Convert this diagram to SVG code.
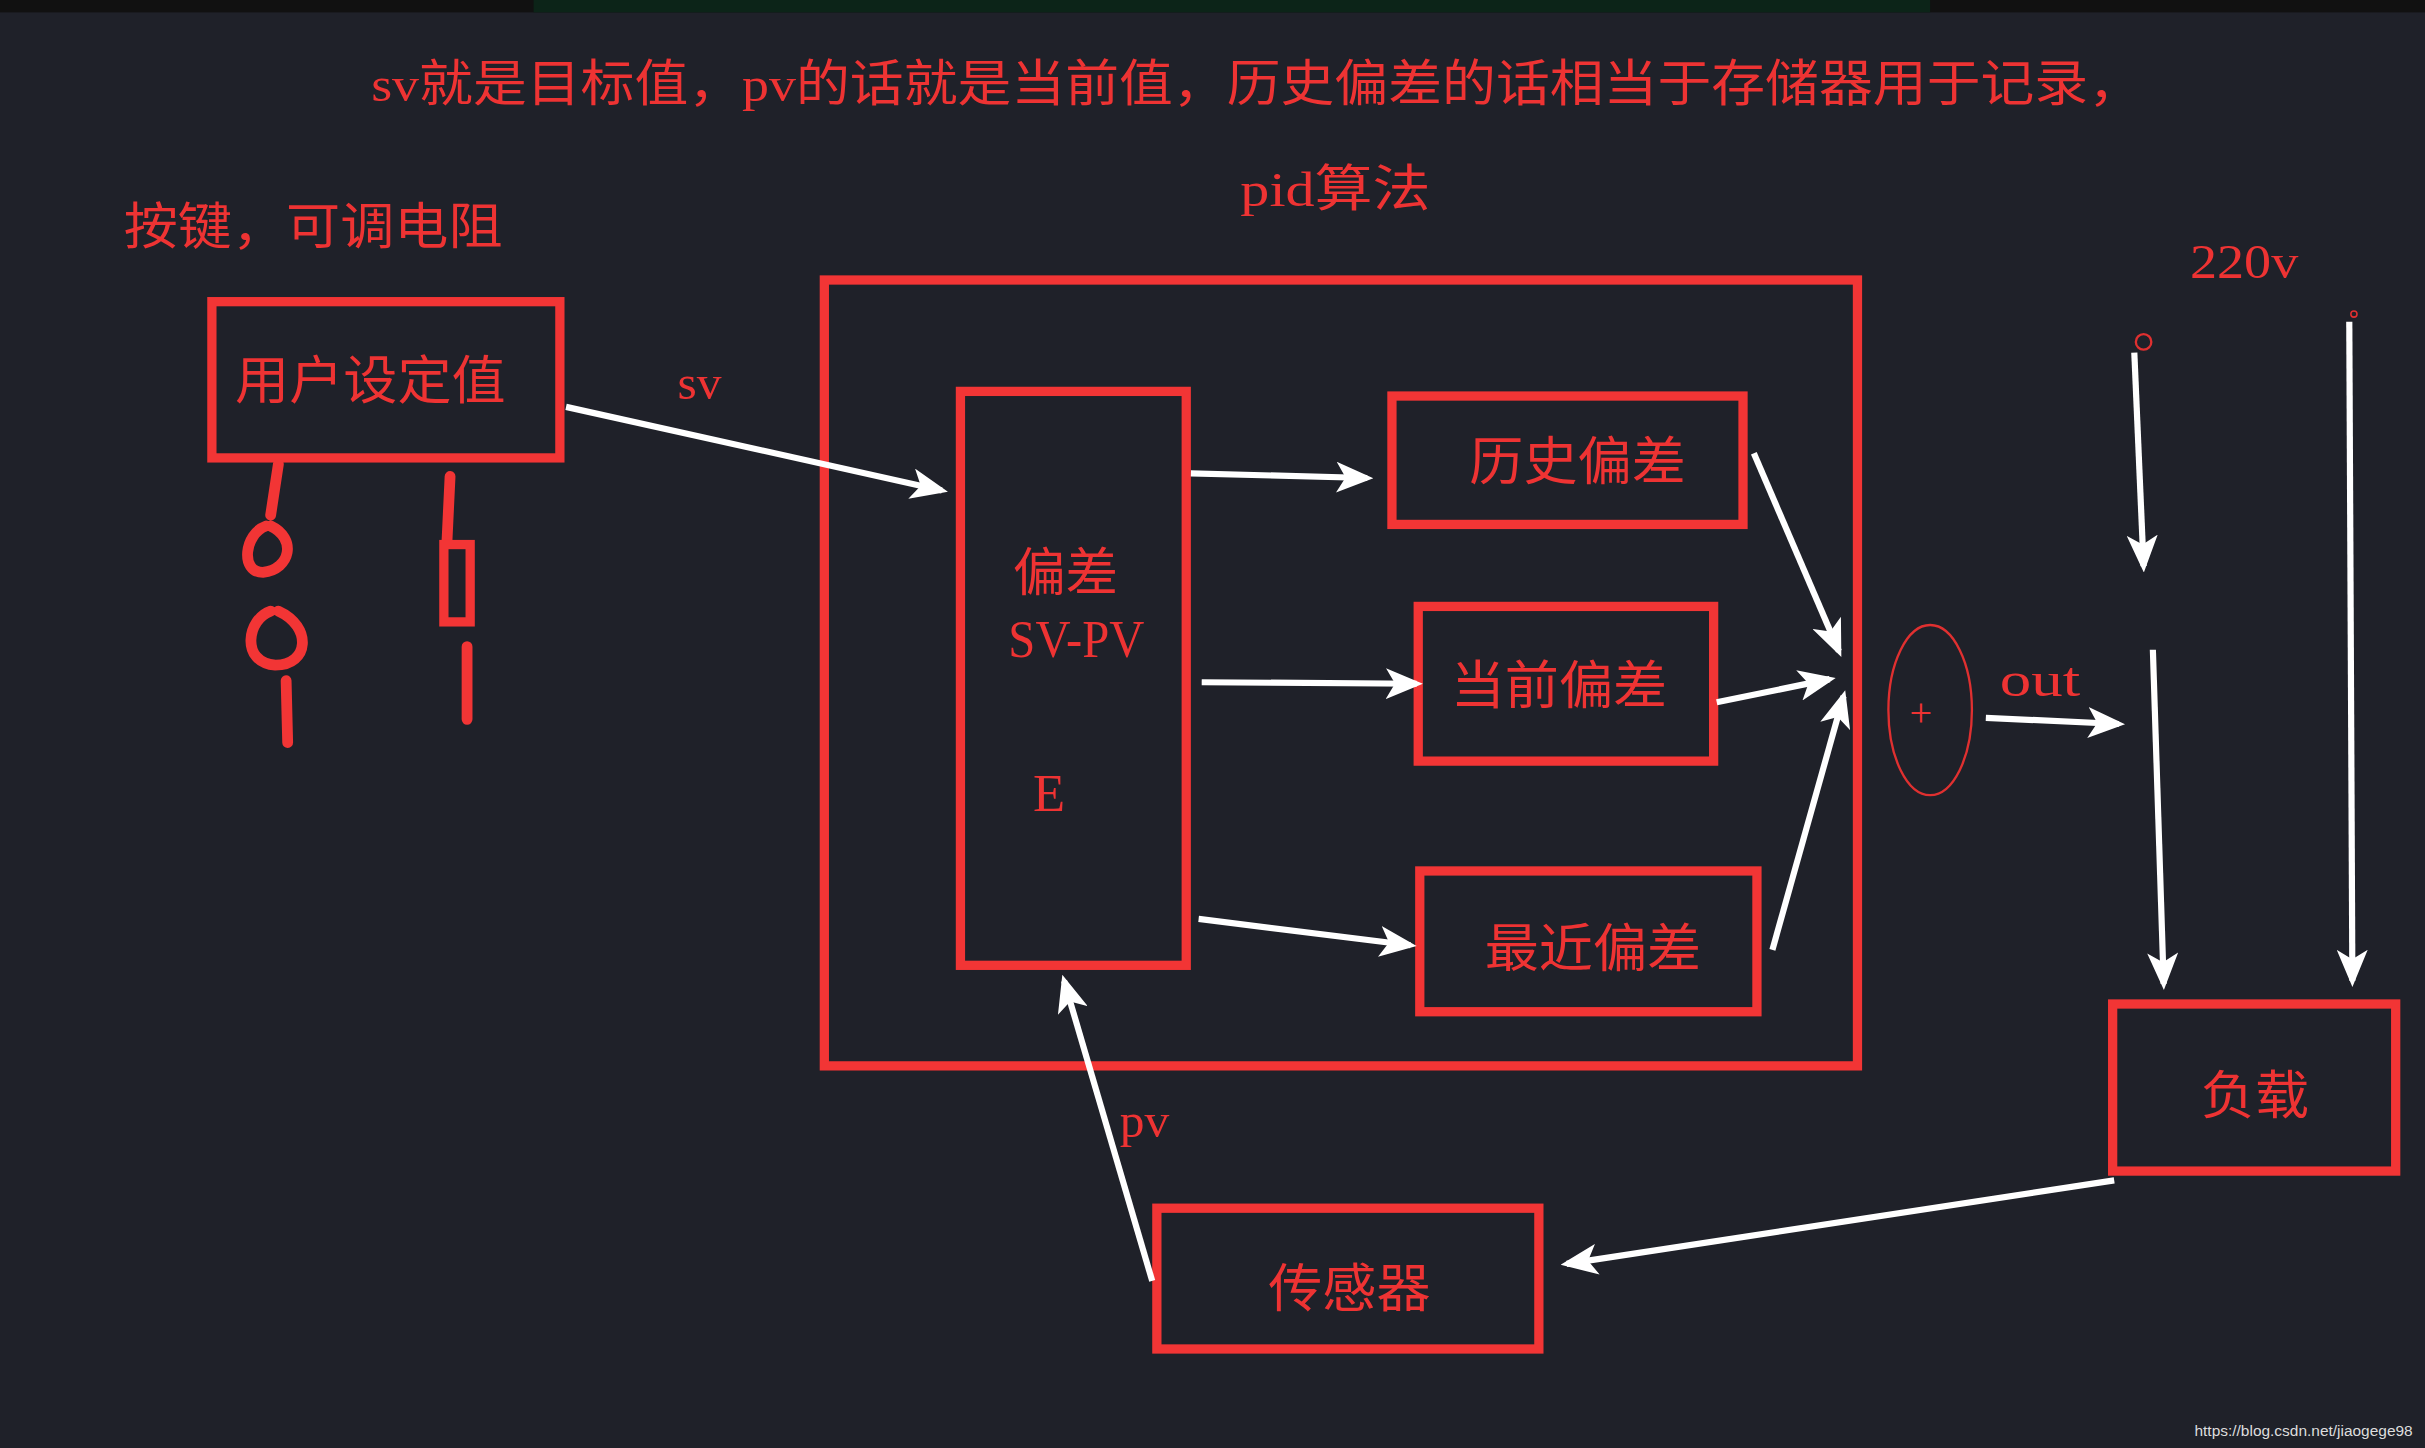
<svg xmlns="http://www.w3.org/2000/svg" width="2425" height="1448" viewBox="0 0 2425 1448">
<style>
.t{font-family:"Liberation Serif","Noto Sans CJK SC",serif;fill:#ee3333}
.b{fill:none;stroke:#f23535;stroke-width:6}
.a{stroke:#ffffff;stroke-width:4;fill:none;marker-end:url(#ah)}
.h{fill:none;stroke:#f23535;stroke-width:7;stroke-linecap:round}
</style>
<defs><marker id="ah" markerWidth="6" markerHeight="5" refX="5" refY="2.5" orient="auto" markerUnits="strokeWidth"><path d="M0,0 L6,2.5 L0,5 L1.5,2.5 Z" fill="#fff"/></marker></defs>
<rect width="2425" height="1448" fill="#1f2129"/>
<g transform="scale(1.5466,1.547)">
<rect x="0" y="0" width="1568" height="8" fill="#111"/>
<rect x="345" y="0" width="903" height="8" fill="#0c2418"/>
<text class="t" x="240" y="65" font-size="32" textLength="1145" lengthAdjust="spacingAndGlyphs">sv就是目标值，pv的话就是当前值，历史偏差的话相当于存储器用于记录，</text>
<text class="t" x="802" y="133" font-size="32" textLength="123" lengthAdjust="spacingAndGlyphs">pid算法</text>
<text class="t" x="80" y="158" font-size="32" textLength="245" lengthAdjust="spacingAndGlyphs">按键，可调电阻</text>
<text class="t" x="1416" y="180" font-size="32" textLength="70" lengthAdjust="spacingAndGlyphs">220v</text>
<text class="t" x="438" y="258" font-size="32">sv</text>
<text class="t" x="724" y="735" font-size="32">pv</text>
<text class="t" x="1293" y="450" font-size="32" textLength="52" lengthAdjust="spacingAndGlyphs">out</text>
<g id="user"><rect class="b" x="137" y="195" width="225" height="101"/><text class="t" x="152" y="258" font-size="34" textLength="175" lengthAdjust="spacingAndGlyphs">用户设定值</text></g>
<g id="pid"><rect class="b" x="533" y="181" width="668" height="508"/></g>
<g id="err"><rect class="b" x="621" y="253" width="146" height="371"/><text class="t" x="655" y="382" font-size="34">偏差</text><text class="t" x="652" y="425" font-size="34" textLength="88" lengthAdjust="spacingAndGlyphs">SV-PV</text><text class="t" x="668" y="524" font-size="34">E</text></g>
<g id="hist"><rect class="b" x="900" y="256" width="227" height="83"/><text class="t" x="950" y="310" font-size="34" textLength="140" lengthAdjust="spacingAndGlyphs">历史偏差</text></g>
<g id="cur"><rect class="b" x="917" y="392" width="191" height="100"/><text class="t" x="938" y="455" font-size="34" textLength="140" lengthAdjust="spacingAndGlyphs">当前偏差</text></g>
<g id="rec"><rect class="b" x="918" y="563" width="218" height="91"/><text class="t" x="960" y="625" font-size="34" textLength="140" lengthAdjust="spacingAndGlyphs">最近偏差</text></g>
<g id="sum"><ellipse cx="1248" cy="459" rx="27" ry="55" fill="none" stroke="#e03030" stroke-width="1.5"/><text class="t" x="1242" y="469" font-size="26" text-anchor="middle">+</text></g>
<g id="load"><rect class="b" x="1366" y="649" width="183" height="108"/><text class="t" x="1423" y="720" font-size="34" textLength="70" lengthAdjust="spacingAndGlyphs">负载</text></g>
<g id="sensor"><rect class="b" x="748" y="781" width="247" height="91"/><text class="t" x="820" y="845" font-size="34" textLength="105" lengthAdjust="spacingAndGlyphs">传感器</text></g>
<g id="pot">
<path class="h" d="M180,300 L175,333 M172,340 C158,345 155,370 170,370 C188,368 192,348 175,340 M175,395 C160,400 155,428 178,430 C200,430 202,405 180,395 M185,440 L186,480 M291,308 L289,350 M302,418 L302,465"/>
<rect x="287" y="352" width="17" height="50" fill="none" stroke="#f23535" stroke-width="6"/>
</g>
<g id="connectors">
<line class="a" x1="366" y1="263" x2="609" y2="317"/>
<line class="a" x1="770" y1="306" x2="884" y2="309"/>
<line class="a" x1="777" y1="441" x2="916" y2="442"/>
<line class="a" x1="775" y1="594" x2="912" y2="611"/>
<line class="a" x1="1134" y1="293" x2="1189" y2="421"/>
<line class="a" x1="1110" y1="454" x2="1183" y2="439"/>
<line class="a" x1="1146" y1="614" x2="1192" y2="450"/>
<line class="a" x1="1284" y1="464" x2="1370" y2="468"/>
<line class="a" x1="1380" y1="228" x2="1386" y2="366"/>
<line class="a" x1="1392" y1="420" x2="1399" y2="636"/>
<line class="a" x1="1519" y1="208" x2="1521" y2="634"/>
<line class="a" x1="1367" y1="763" x2="1013" y2="817"/>
<line class="a" x1="745" y1="828" x2="688" y2="634"/>
</g>
<circle cx="1386" cy="221" r="5" fill="none" stroke="#e03030" stroke-width="1.5"/>
<circle cx="1522" cy="203" r="2" fill="none" stroke="#e03030" stroke-width="1"/>
<text x="1560" y="928" font-size="10" text-anchor="end" font-family="Liberation Sans,sans-serif" fill="#dddddd">https://blog.csdn.net/jiaogege98</text>
</g>
</svg>
